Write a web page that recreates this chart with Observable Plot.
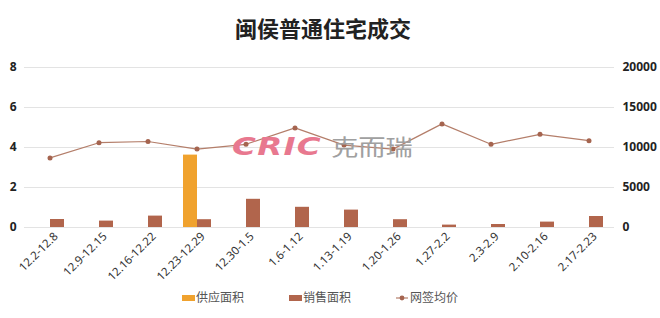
<!DOCTYPE html>
<html>
<head>
<meta charset="utf-8">
<script src="https://cdn.jsdelivr.net/npm/d3@7"></script>
<script src="https://cdn.jsdelivr.net/npm/@observablehq/plot@0.6"></script>
<style>
  html, body { margin: 0; padding: 0; background: #fff; }
  #wrap { position: relative; width: 660px; height: 318px; overflow: hidden; font-family: "Noto Sans", "Noto Sans CJK SC", sans-serif; }
  #title { position: absolute; left: 0; top: 12px; width: 646px; text-align: center; font-family: "Noto Sans CJK SC", sans-serif; font-weight: bold; font-size: 22px; color: #222; line-height: 30px; }
  #chart { position: absolute; left: 0; top: 50px; }
  #legend { position: absolute; top: 287px; left: 0; width: 660px; height: 20px; font-family: "Noto Sans CJK SC", sans-serif; font-size: 12px; color: #555; }
  .li { position: absolute; top: 0; line-height: 20px; white-space: nowrap; }
  .sw { display: inline-block; width: 13px; height: 6px; vertical-align: middle; margin-right: 1px; position: relative; top: -1px; }
  .ln { display: inline-block; width: 12px; height: 8px; vertical-align: middle; position: relative; top: -1px; margin-right: 2px; }
  .wm { position: absolute; white-space: nowrap; pointer-events: none; transform-origin: 0 0; line-height: 1; }
  #wm1 { left: 232px; top: 134px; font-family: "DejaVu Sans", sans-serif; font-weight: bold; font-style: italic; font-size: 25px; color: #e8788f; letter-spacing: 1px; transform: scaleX(1.3); }
  #wm2 { left: 331px; top: 134px; font-family: "Noto Sans CJK SC", sans-serif; font-size: 22px; color: #a0a0a0; transform: scaleX(1.24); }
</style>
</head>
<body>
<div id="wrap">
  <div id="title">闽侯普通住宅成交</div>
  <div id="chart"></div>
  <div class="wm" id="wm1">CRIC</div>
  <div class="wm" id="wm2">克而瑞</div>
  <div id="legend"></div>
</div>
<script>
const weeks = ["12.2-12.8", "12.9-12.15", "12.16-12.22", "12.23-12.29", "12.30-1.5", "1.6-1.12", "1.13-1.19", "1.20-1.26", "1.27-2.2", "2.3-2.9", "2.10-2.16", "2.17-2.23"];
const supplyArea = [0, 0, 0, 3.62, 0, 0, 0, 0, 0, 0, 0, 0];
const salesArea = [0.40, 0.32, 0.57, 0.39, 1.41, 1.01, 0.87, 0.39, 0.12, 0.15, 0.27, 0.55];
const avgPrice = [8700, 10600, 10750, 9800, 10400, 12450, 10300, 9800, 12950, 10400, 11650, 10850];
const leftTicks = [0, 2, 4, 6, 8];
const rightTicks = [0, 5000, 10000, 15000, 20000];
const seriesNames = ["供应面积", "销售面积", "网签均价"];

const RATIO = rightTicks[rightTicks.length - 1] / leftTicks[leftTicks.length - 1];
const rows = weeks.map((w, i) => ({ week: w, supply: supplyArea[i], sales: salesArea[i], price: avgPrice[i] }));

const colSupply = "#f0a22e";
const colSales = "#b1654c";
const colLine = "#b47e6a";
const colDot = "#a5644f";

const chart = Plot.plot({
  width: 660,
  height: 232,
  marginTop: 17,
  marginBottom: 55,
  marginLeft: 24,
  marginRight: 46,
  style: { fontFamily: "'Noto Sans', 'Noto Sans CJK SC', sans-serif", fontSize: "12px", color: "#333", background: "transparent" },
  x: { type: "band", domain: weeks, padding: 0 },
  y: { domain: [leftTicks[0], leftTicks[leftTicks.length - 1]] },
  marks: [
    Plot.gridY(leftTicks, { stroke: "#e3e3e3", strokeOpacity: 1 }),
    Plot.axisY({ anchor: "left", ticks: leftTicks, tickSize: 0, tickPadding: 8, fontWeight: "bold", fontSize: 12, fill: "#222", label: null }),
    Plot.axisY({ anchor: "right", ticks: rightTicks.map(v => v / RATIO), tickSize: 0, tickPadding: 8, tickFormat: d => String(Math.round(d * RATIO)), fontWeight: "bold", fontSize: 12, fill: "#222", label: null }),
    Plot.axisX({ tickSize: 0, tickRotate: -45, tickPadding: 7, dx: 6, fontSize: 11.5, fill: "#333", label: null }),
    Plot.barY(rows.filter(d => d.supply > 0), { x: "week", y: "supply", fill: colSupply, insetLeft: 11, insetRight: 24 }),
    Plot.barY(rows, { x: "week", y: "sales", fill: colSales, insetLeft: 25, insetRight: 10 }),
    Plot.line(rows, { x: "week", y: d => d.price / RATIO, stroke: colLine, strokeWidth: 1.2 }),
    Plot.dot(rows, { x: "week", y: d => d.price / RATIO, r: 2.5, fill: colDot, stroke: "none" })
  ]
});
document.getElementById("chart").appendChild(chart);

// legend
const legend = document.getElementById("legend");
const items = [
  { name: seriesNames[0], left: 182, html: `<span class="sw" style="background:${colSupply}"></span>` },
  { name: seriesNames[1], left: 289, html: `<span class="sw" style="background:${colSales}"></span>` },
  { name: seriesNames[2], left: 396, html: `<svg class="ln" viewBox="0 0 12 8"><line x1="0" y1="4" x2="12" y2="4" stroke="${colLine}" stroke-width="1.2"/><circle cx="6" cy="4" r="2.4" fill="${colDot}"/></svg>` }
];
for (const it of items) {
  const d = document.createElement("div");
  d.className = "li";
  d.style.left = it.left + "px";
  d.innerHTML = it.html + it.name;
  legend.appendChild(d);
}
</script>
</body>
</html>
